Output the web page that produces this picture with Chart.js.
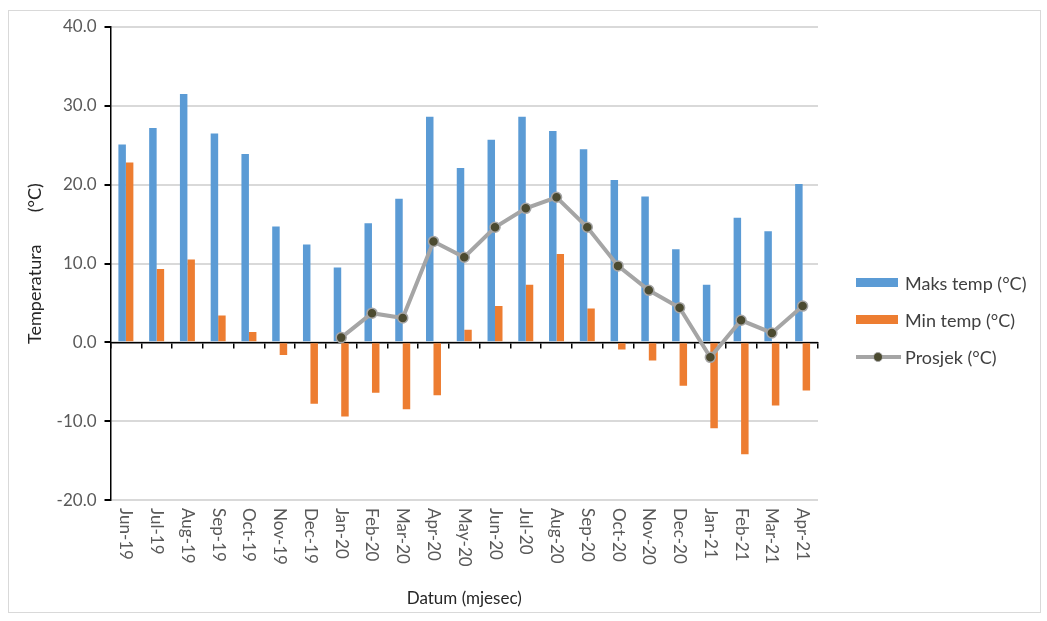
<!DOCTYPE html>
<html>
<head>
<meta charset="utf-8">
<script src="https://cdn.jsdelivr.net/npm/chart.js@4.4.1/dist/chart.umd.min.js"></script>
<style>
    body { margin: 0; background: #fff; font-family: Lato, sans-serif; }
    #wrap { position: relative; width: 1047px; height: 621px; }
    #frame { position: absolute; left: 8px; top: 10px; width: 1031px; height: 601px; border: 1px solid #d9d9d9; pointer-events: none; }
    #chart { position: absolute; left: 0; top: 0; }
    .legend { position: absolute; left: 856px; font-size: 18px; color: #404040; }
    .legend div { height: 37px; display: flex; align-items: center; }
    .swatch { display: inline-block; width: 42px; height: 9px; margin-right: 7px; }
    .lineSwatch { position: relative; display: inline-block; width: 45px; height: 4px; background: #a5a5a5; margin-right: 4px; }
    .lineSwatch span { position: absolute; left: 17px; top: -3px; width: 8px; height: 8px; border-radius: 50%; background: #4b4a30; border: 1px solid #a5a5a5; }
</style>
</head>
<body>
<div id="wrap">
    <div id="frame"></div>
    <canvas id="chart" width="1047" height="621"></canvas>
    <div class="legend" id="legend" style="top: 264px;"></div>
</div>
<script>
// Month labels
const months = ['Jun-19', 'Jul-19', 'Aug-19', 'Sep-19', 'Oct-19', 'Nov-19', 'Dec-19', 'Jan-20',
    'Feb-20', 'Mar-20', 'Apr-20', 'May-20', 'Jun-20', 'Jul-20', 'Aug-20', 'Sep-20', 'Oct-20',
    'Nov-20', 'Dec-20', 'Jan-21', 'Feb-21', 'Mar-21', 'Apr-21'];

// Temperatures (°C)
const maxTemp = [25.1, 27.2, 31.5, 26.5, 23.9, 14.7, 12.4, 9.5, 15.1, 18.2, 28.6, 22.1,
    25.7, 28.6, 26.8, 24.5, 20.6, 18.5, 11.8, 7.3, 15.8, 14.1, 20.1];
const minTemp = [22.8, 9.3, 10.5, 3.4, 1.3, -1.6, -7.8, -9.4, -6.4, -8.5, -6.7, 1.6,
    4.6, 7.3, 11.2, 4.3, -0.9, -2.3, -5.5, -10.9, -14.2, -8.0, -6.1];
const avgTemp = [null, null, null, null, null, null, null, 0.6, 3.7, 3.1, 12.8, 10.8,
    14.6, 17.0, 18.4, 14.6, 9.7, 6.6, 4.4, -1.9, 2.8, 1.2, 4.6];

const seriesNames = ['Maks temp (°C)', 'Min temp (°C)', 'Prosjek (°C)'];
const yTicks = [-20, -10, 0, 10, 20, 30, 40];

const blue = '#5b9bd5';
const orange = '#ed7d31';
const gray = '#a5a5a5';
const tickFont = { family: 'Lato', size: 17 };
const titleFont = { family: 'Lato', size: 18 };

// Simple HTML legend
const legend = document.getElementById('legend');
legend.innerHTML =
    '<div><span class="swatch" style="background:' + blue + '"></span>' + seriesNames[0] + '</div>' +
    '<div><span class="swatch" style="background:' + orange + '"></span>' + seriesNames[1] + '</div>' +
    '<div><span class="lineSwatch"><span></span></span>' + seriesNames[2] + '</div>';

// Month labels read top to bottom (turned clockwise), under the plot
const clockwiseLabels = {
    id: 'clockwiseLabels',
    afterDraw(chart) {
        const c = chart.ctx;
        const xScale = chart.scales.x;
        const top = chart.chartArea.bottom + 8;
        c.save();
        c.font = tickFont.size + 'px ' + tickFont.family;
        c.fillStyle = '#595959';
        c.textAlign = 'left';
        c.textBaseline = 'middle';
        months.forEach(function(m, i) {
            c.save();
            c.translate(xScale.getPixelForValue(i), top);
            c.rotate(Math.PI / 2);
            c.fillText(m, 0, 0);
            c.restore();
        });
        c.restore();
    }
};

const ctx = document.getElementById('chart').getContext('2d');
const chart = new Chart(ctx, {
    type: 'bar',
    data: {
        labels: months,
        datasets: [
            {
                type: 'line',
                label: seriesNames[2],
                data: avgTemp,
                borderColor: gray,
                borderWidth: 4,
                pointRadius: 5,
                pointBackgroundColor: '#4b4a30',
                pointBorderColor: gray,
                pointBorderWidth: 1.5,
                tension: 0,
                order: 0
            },
            {
                label: seriesNames[0],
                data: maxTemp,
                backgroundColor: blue,
                order: 1
            },
            {
                label: seriesNames[1],
                data: minTemp,
                backgroundColor: orange,
                order: 1
            }
        ]
    },
    options: {
        responsive: false,
        animation: false,
        layout: { padding: { left: 21, right: 229, top: 27, bottom: 12 } },
        datasets: {
            bar: { categoryPercentage: 0.487, barPercentage: 1.0 }
        },
        plugins: {
            legend: { display: false },
            tooltip: { enabled: false }
        },
        scales: {
            x: {
                position: { y: 0 },
                ticks: { display: false },
                grid: { drawOnChartArea: false, tickLength: 5, tickColor: '#000', lineWidth: 1.5, offset: true },
                border: { color: '#000', width: 1.5 }
            },
            x2: {
                // keeps room for the month labels and carries the axis title
                type: 'category',
                position: 'bottom',
                labels: months,
                offset: true,
                grid: { display: false },
                border: { display: false },
                ticks: { color: 'rgba(0,0,0,0)', font: tickFont, minRotation: 90, maxRotation: 90, autoSkip: false, padding: 6 },
                title: { display: true, text: 'Datum (mjesec)', color: '#262626', font: tickFont, padding: { top: 10, bottom: 0 } }
            },
            y: {
                min: yTicks[0],
                max: yTicks[yTicks.length - 1],
                afterBuildTicks: function(scale) {
                    scale.ticks = yTicks.map(v => ({ value: v }));
                },
                ticks: {
                    color: '#595959',
                    font: tickFont,
                    padding: 8,
                    callback: v => v.toFixed(1)
                },
                grid: { color: '#d9d9d9', lineWidth: 2, tickColor: '#000', tickLength: 6 },
                border: { color: '#000', width: 1.5 },
                title: { display: true, text: 'Temperatura       (°C)', color: '#262626', font: titleFont, padding: 3 }
            }
        }
    },
    plugins: [clockwiseLabels]
});
</script>
</body>
</html>
